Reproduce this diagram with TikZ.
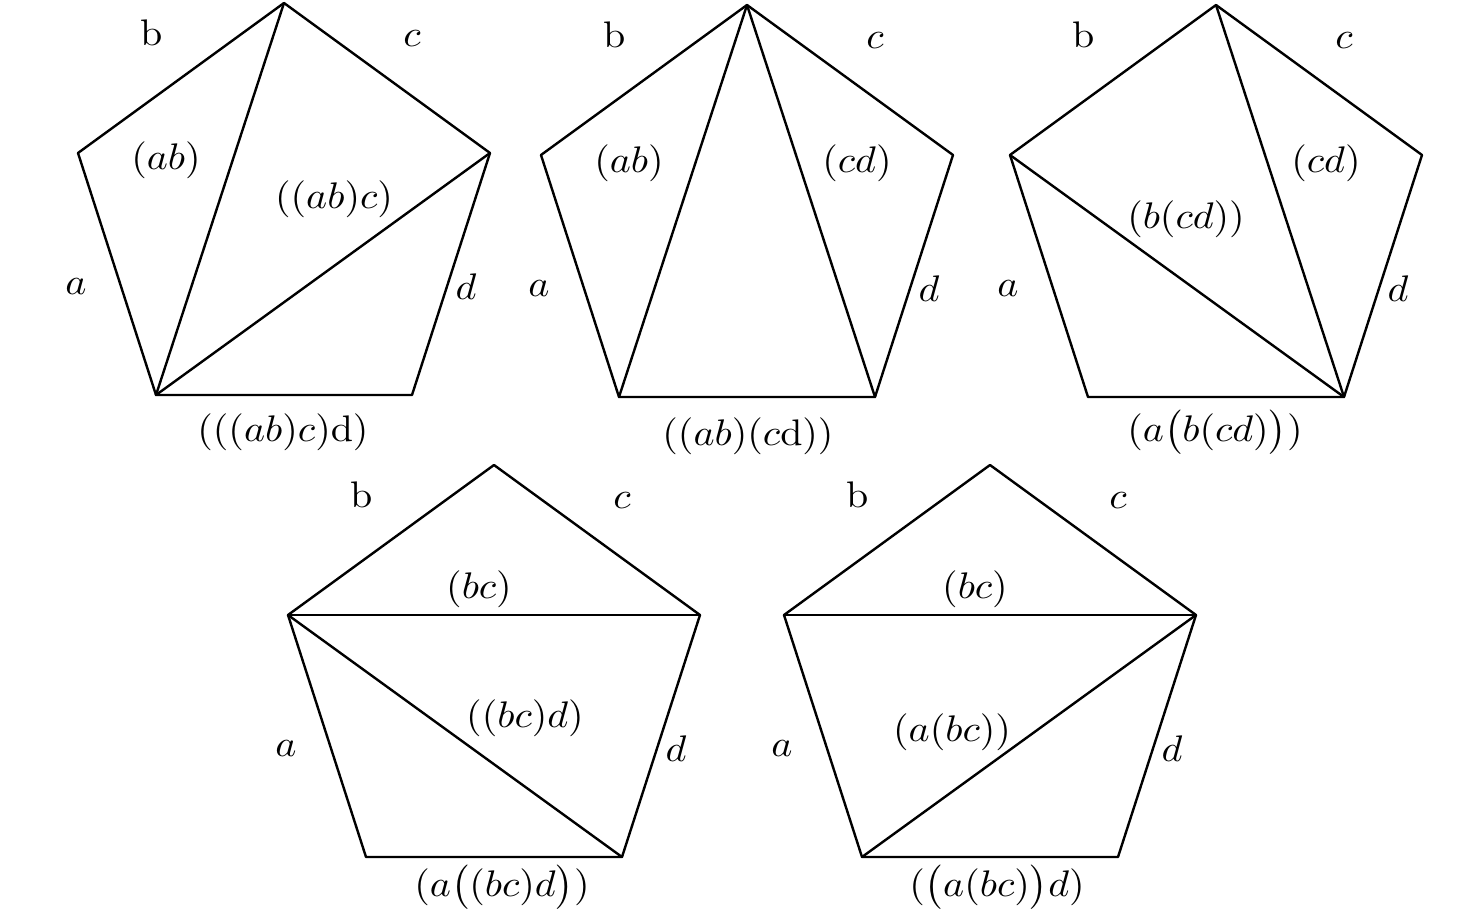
\documentclass[tikz,border=0pt]{standalone}
\usepackage{amsmath}
\begin{document}
\begin{tikzpicture}[x=1pt,y=-1pt,
  edge/.style={line width=2.4pt,line join=round,line cap=round},
  lab/.style={inner sep=0pt,xscale=4.0,yscale=3.7}]
\useasboundingbox (0,0) rectangle (1476,923);
\newcommand\pentagon[3]{%
  \coordinate (#1t) at (#2,#3);
  \coordinate (#1l) at (#2-206,#3+150);
  \coordinate (#1r) at (#2+206,#3+150);
  \coordinate (#1bl) at (#2-128,#3+392);
  \coordinate (#1br) at (#2+128,#3+392);
  \draw[edge] (#1t) -- (#1r) -- (#1br) -- (#1bl) -- (#1l) -- cycle;
  \node[lab] (#1B) at (#2-132,#3+30) {b};
  \node[lab] (#1C) at (#2+128,#3+36) {$c$};
  \node[lab] (#1A) at (#2-208,#3+284) {$a$};
  \node[lab] (#1D) at (#2+182,#3+284) {$d$};
}
% pentagon 1
\pentagon{p}{284}{3}
\draw[edge] (pbl) -- (pt);
\draw[edge] (pbl) -- (pr);
\node[lab] (p1) at (166,160) {$(ab)$};
\node[lab] (p2) at (334,199) {$((ab)c)$};
\node[lab] (p3) at (283,432) {$(((ab)c)\mathrm{d})$};
% pentagon 2
\pentagon{q}{747}{5}
\draw[edge] (qbl) -- (qt);
\draw[edge] (qbr) -- (qt);
\node[lab] (q1) at (629,163) {$(ab)$};
\node[lab] (q2) at (857,163) {$(cd)$};
\node[lab] (q3) at (748,436) {$((ab)(c\mathrm{d}))$};
% pentagon 3
\pentagon{r}{1216}{5}
\draw[edge] (rbr) -- (rt);
\draw[edge] (rbr) -- (rl);
\node[lab] (r1) at (1326,163) {$(cd)$};
\node[lab] (r2) at (1186,219) {$(b(cd))$};
\node[lab] (r3) at (1215,432) {$(a\big(b(cd)\big))$};
% pentagon 4
\pentagon{s}{494}{465}
\draw[edge] (sl) -- (sr);
\draw[edge] (sl) -- (sbr);
\node[lab] (s1) at (479,589) {$(bc)$};
\node[lab] (s2) at (525,718) {$((bc)d)$};
\node[lab] (s3) at (502,887) {$(a\big((bc)d\big))$};
% pentagon 5
\pentagon{u}{990}{465}
\draw[edge] (ul) -- (ur);
\draw[edge] (ur) -- (ubl);
\node[lab] (u1) at (975,589) {$(bc)$};
\node[lab] (u2) at (952,732) {$(a(bc))$};
\node[lab] (u3) at (997,887) {$(\big(a(bc)\big)d)$};
\end{tikzpicture}
\end{document}
